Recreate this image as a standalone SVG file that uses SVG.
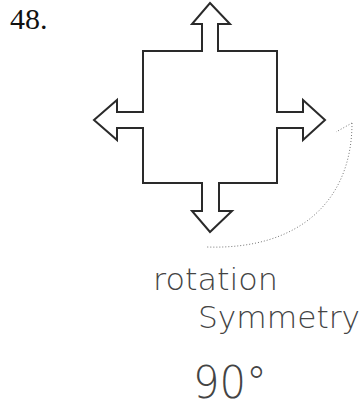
<svg xmlns="http://www.w3.org/2000/svg" width="362" height="408" viewBox="0 0 362 408">
<style>
.num{font-family:"Liberation Serif","DejaVu Serif",serif;font-size:30px;fill:#111}
.shape{fill:none;stroke:#2a2a2a;stroke-width:2;stroke-linejoin:miter}
.hand{font-family:"DejaVu Sans",sans-serif;font-weight:200;fill:#444}
.dot{fill:none;stroke:#777;stroke-width:1;stroke-dasharray:1 2}
</style>
<rect width="362" height="408" fill="#fff"/>
<text class="num" x="10" y="29">48.</text>
<g id="cross">
<path class="shape" d="M210,3 L230,24 L218,24 L218,51 L277,51 L277,112 L303,112 L303,100 L325,120 L303,140 L303,128 L277,128 L277,183 L219,183 L219,211 L232,211 L210,232 L192,211 L202,211 L202,183 L143,183 L143,128 L117,128 L117,140 L94,120 L117,100 L117,112 L143,112 L143,51 L202,51 L202,24 L192,24 Z"/>
</g>
<g id="connectors">
<path class="dot" d="M352,123 C352,200 300,250 207,247"/>
<path class="dot" d="M352,123 L336,132"/>
</g>
<g id="notes">
<text class="hand" x="153" y="290" font-size="30" textLength="125" lengthAdjust="spacingAndGlyphs">rotation</text>
<text class="hand" x="198" y="328" font-size="30" textLength="162" lengthAdjust="spacingAndGlyphs">Symmetry</text>
<text class="hand" x="193" y="398" font-size="44" textLength="74" lengthAdjust="spacingAndGlyphs">90°</text>
</g>
</svg>
